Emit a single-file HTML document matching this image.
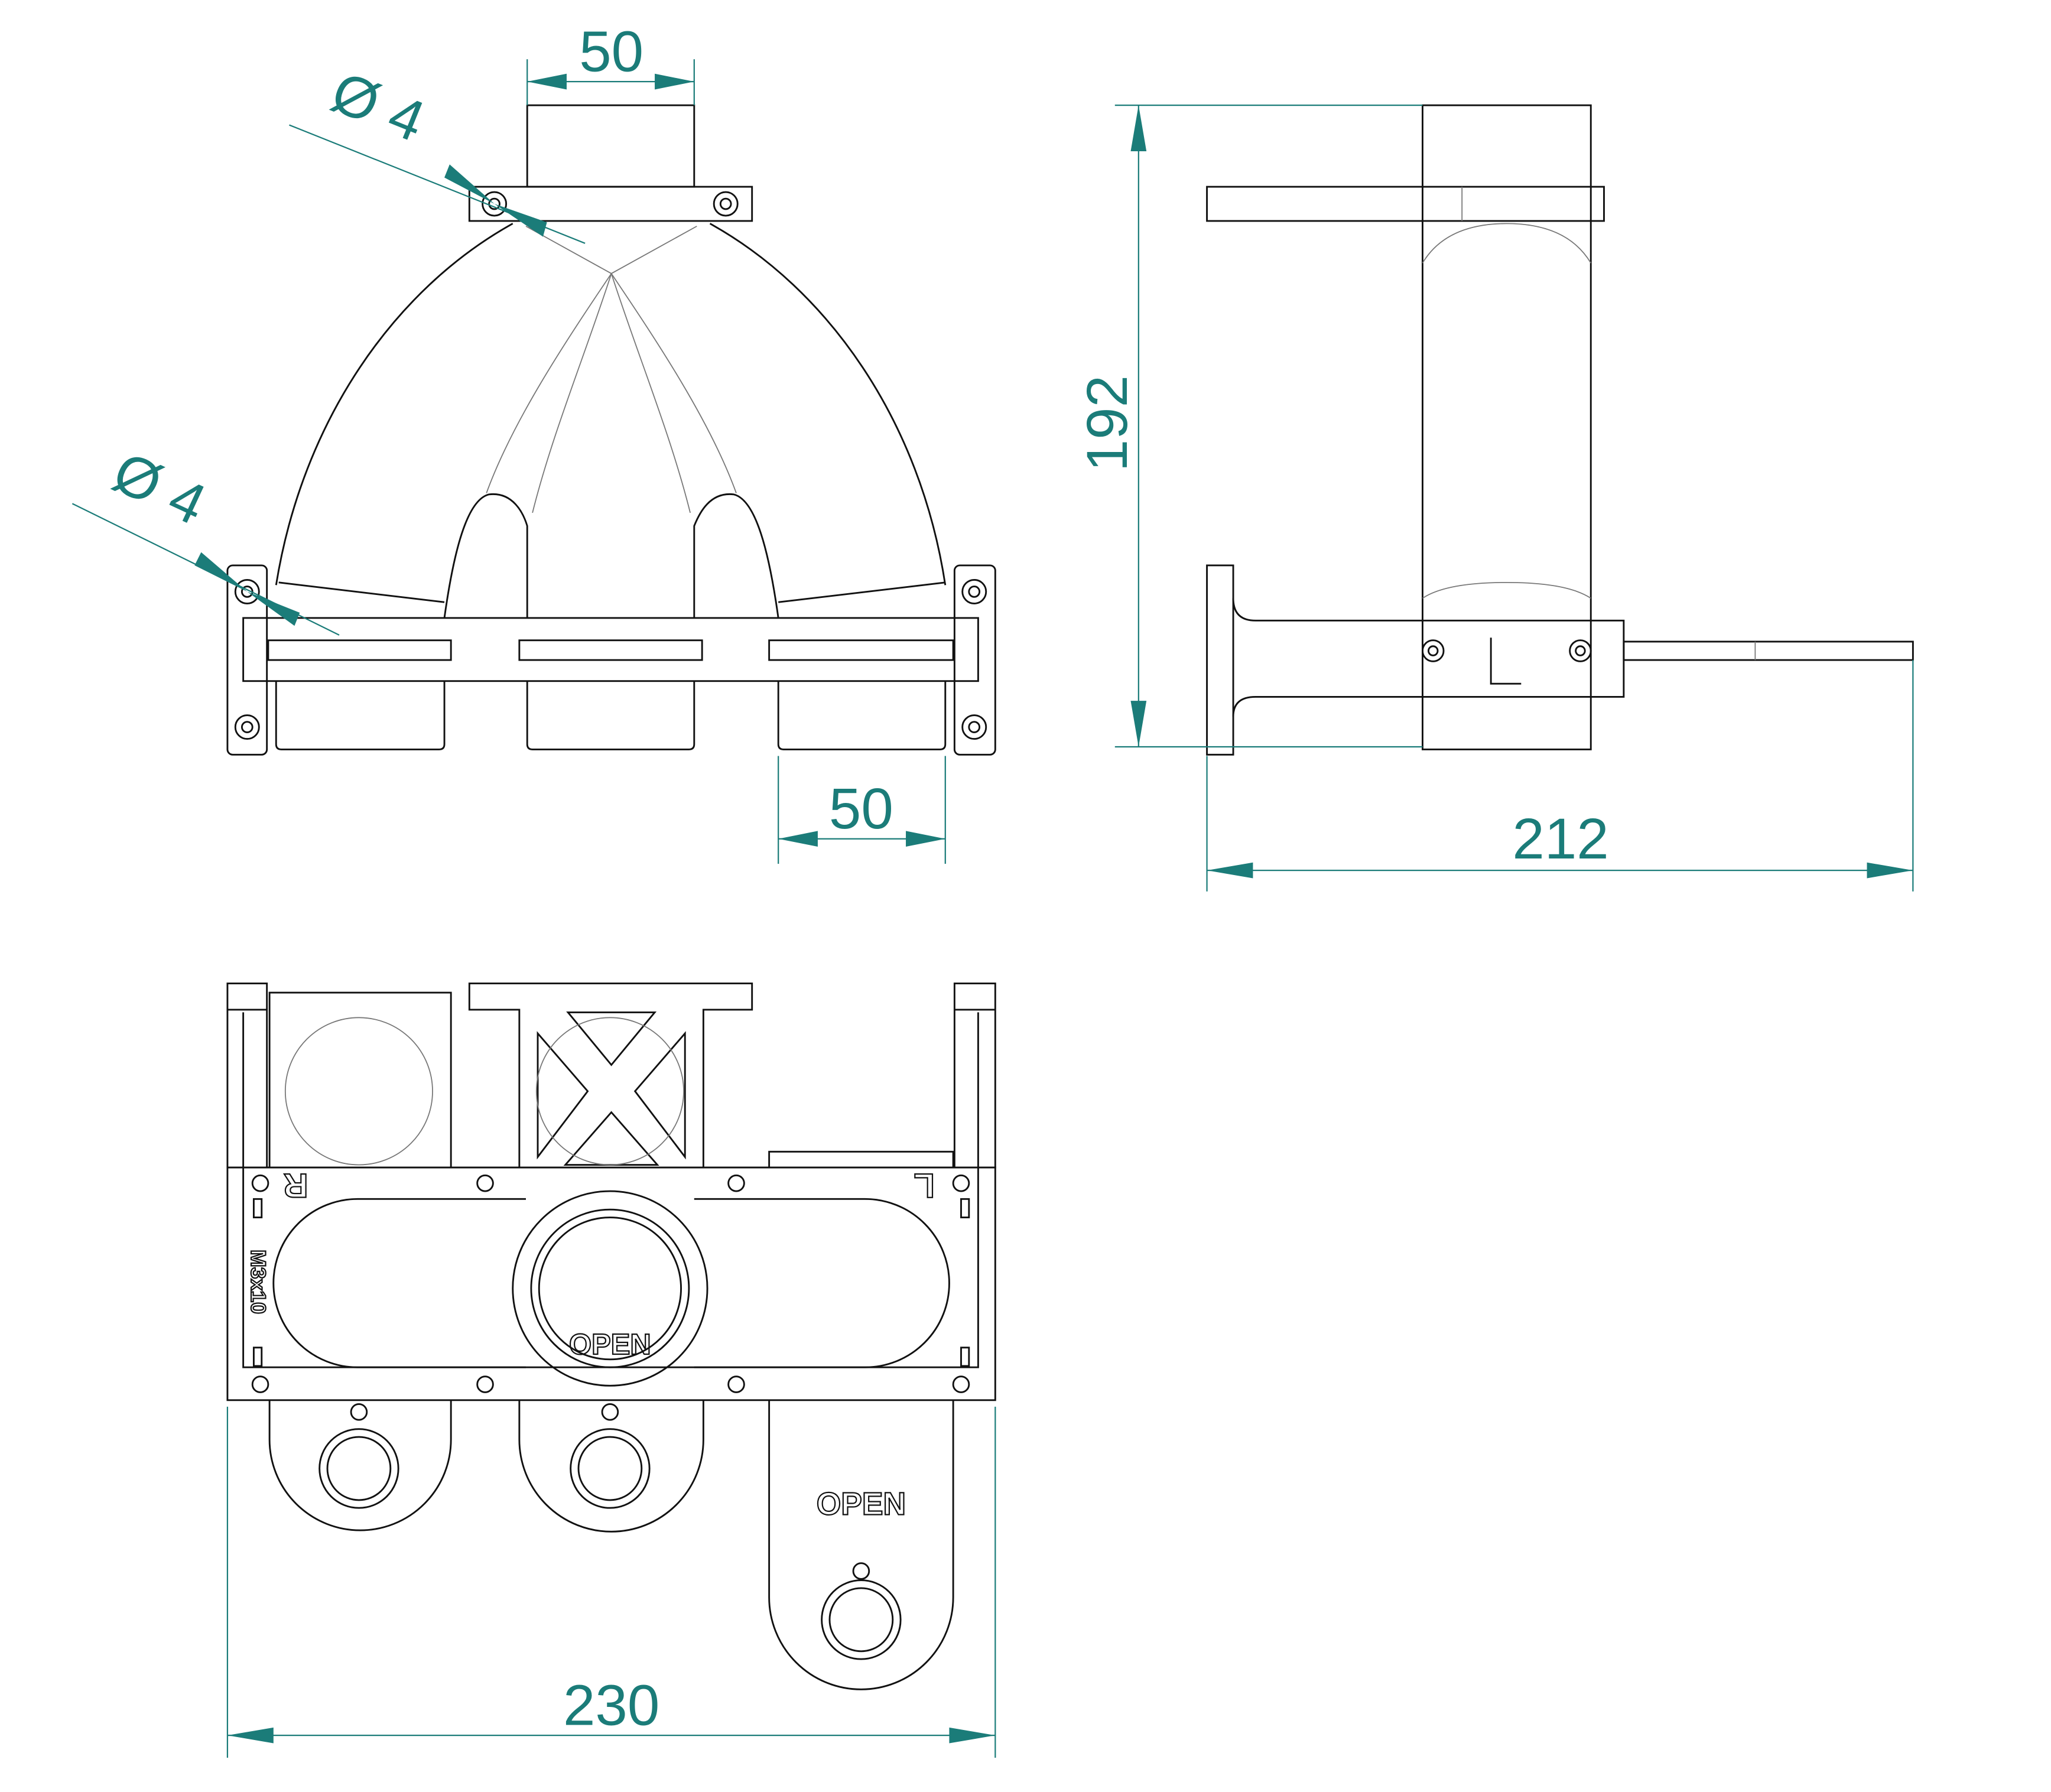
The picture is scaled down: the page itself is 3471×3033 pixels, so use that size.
<!DOCTYPE html>
<html><head><meta charset="utf-8"><style>
html,body{margin:0;padding:0;background:#fff}
svg{display:block}
.l{fill:none;stroke:#111;stroke-width:1.3}
.t{fill:none;stroke:#777;stroke-width:0.8}
.d{stroke:#1b7c79;stroke-width:1;fill:none}
.a{fill:#1b7c79}
.dt{font-family:"Liberation Sans",sans-serif;fill:#1b7c79;font-size:44px}
.bt{font-family:"Liberation Sans",sans-serif;fill:none;stroke:#111;stroke-width:1;font-weight:bold}
</style></head><body>
<svg width="3471" height="3033" viewBox="0 0 1560 1363" xmlns="http://www.w3.org/2000/svg">
<rect width="1560" height="1363" fill="#fff"/>
<!-- FRONT VIEW -->
<g class="l">
<rect x="401" y="80" width="127" height="62"/>
<rect x="357" y="142" width="215" height="26"/>
<circle cx="376" cy="155" r="9"/><circle cx="376" cy="155" r="4"/>
<circle cx="552" cy="155" r="9"/><circle cx="552" cy="155" r="4"/>
<path d="M390,170 C300,220 230,320 210,445"/>
<path d="M540,170 C630,220 700,320 719,445"/>
<path d="M212,443 L338,458"/><path d="M719,443 L592,458"/>
<path d="M338,470 C345,420 355,380 372,376 C390,374 398,390 401,400 L401,470"/>
<path d="M592,470 C585,420 575,380 558,376 C540,374 532,390 528,400 L528,470"/>
<rect x="185" y="470" width="559" height="48"/>
<rect x="204" y="487" width="139" height="15"/><rect x="395" y="487" width="139" height="15"/><rect x="585" y="487" width="140" height="15"/>
<rect x="173" y="430" width="30" height="144" rx="4"/>
<rect x="726" y="430" width="31" height="144" rx="4"/>
<circle cx="188" cy="450" r="9"/><circle cx="188" cy="450" r="4"/>
<circle cx="188" cy="553" r="9"/><circle cx="188" cy="553" r="4"/>
<circle cx="741" cy="450" r="9"/><circle cx="741" cy="450" r="4"/>
<circle cx="741" cy="553" r="9"/><circle cx="741" cy="553" r="4"/>
<path d="M210,518 V566 Q210,570 214,570 H334 Q338,570 338,566 V518"/>
<path d="M401,518 V566 Q401,570 405,570 H524 Q528,570 528,566 V518"/>
<path d="M592,518 V566 Q592,570 596,570 H715 Q719,570 719,566 V518"/>
</g>
<g class="t">
<path d="M400,172 L465,208 L530,172"/>
<path d="M465,208 C430,260 390,320 370,375"/><path d="M465,208 C445,270 420,330 405,390"/>
<path d="M465,208 C500,260 540,320 560,375"/><path d="M465,208 C485,270 510,330 525,390"/>
</g>
<g class="d">
<path d="M401,45 V80 M528,45 V80 M401,62 H528"/>
<path d="M592,575 V657 M719,575 V657 M592,638 H719"/>
<path d="M220,95 L445,185"/><path d="M55,383 L258,483"/>
</g>
<g class="a">
<path d="M401,62 l30,-6 v12z"/><path d="M528,62 l-30,-6 v12z"/>
<path d="M592,638 l30,-6 v12z"/><path d="M719,638 l-30,-6 v12z"/>
<path d="M376,155 l-38,-20 l4,-10z"/><path d="M376,155 l40,14 l-3,11z"/>
<path d="M188,450 l-40,-20 l5,-10z"/><path d="M188,450 l40,16 l-4,10z"/>
</g>
<text class="dt" x="465" y="54" text-anchor="middle">50</text>
<text class="dt" x="655" y="630" text-anchor="middle">50</text>
<text class="dt" transform="translate(282,95) rotate(22)" text-anchor="middle">Ø 4</text>
<text class="dt" transform="translate(115,385) rotate(25)" text-anchor="middle">Ø 4</text>
<!-- SIDE VIEW -->
<g class="l">
<rect x="1082" y="80" width="128" height="490"/>
<rect x="918" y="142" width="302" height="26"/>
<rect x="918" y="430" width="20" height="144"/>
<path d="M938,455 Q938,472 955,472 H1235 V530 H955 Q938,530 938,545"/>
<rect x="1235" y="488" width="220" height="14"/>
<circle cx="1090" cy="495" r="8"/><circle cx="1090" cy="495" r="3.5"/>
<circle cx="1202" cy="495" r="8"/><circle cx="1202" cy="495" r="3.5"/>
<path d="M1134,485 V520 H1157"/>
</g>
<g class="t"><path d="M1082,200 Q1100,170 1146,170 Q1192,170 1210,200"/><path d="M1082,455 Q1100,443 1146,443 Q1192,443 1210,455"/><path d="M1112,142 V168 M1335,488 V502"/></g>
<g class="d">
<path d="M848,80 H1082 M848,568 H1082 M866,80 V568"/>
<path d="M918,575 V678 M1455,502 V678 M918,662 H1455"/>
</g>
<g class="a">
<path d="M866,80 l-6,35 h12z"/><path d="M866,568 l-6,-35 h12z"/>
<path d="M918,662 l35,-6 v12z"/><path d="M1455,662 l-35,-6 v12z"/>
</g>
<text class="dt" transform="translate(857,322) rotate(-90)" text-anchor="middle">192</text>
<text class="dt" x="1187" y="653" text-anchor="middle">212</text>
<!-- BOTTOM VIEW -->
<g class="l">
<rect x="173" y="748" width="30" height="140"/><rect x="726" y="748" width="31" height="140"/>
<path d="M185,770 V888 M744,770 V888 M173,768 H203 M726,768 H757"/>
<rect x="205" y="755" width="138" height="133"/>
<path d="M357,748 H572 V768 H535 V888 H395 V768 H357Z"/>
<path d="M432,770 H498 L465,810Z"/>
<path d="M430,886 H500 L465,846Z"/>
<path d="M409,786 V880 L447,830Z"/>
<path d="M521,786 V880 L483,830Z"/>
<rect x="585" y="876" width="140" height="12"/>
<rect x="173" y="888" width="584" height="177"/>
<rect x="185" y="888" width="559" height="152"/>
<path d="M272,912 H400 M272,1040 H400 M272,912 A64,64 0 0 0 272,1040"/>
<path d="M658,912 H528 M658,1040 H528 M658,912 A64,64 0 0 1 658,1040"/>
<circle cx="464" cy="980" r="60"/><circle cx="464" cy="980" r="54"/><circle cx="464" cy="980" r="74"/>
<circle cx="198" cy="900" r="6"/><circle cx="198" cy="1053" r="6"/><circle cx="731" cy="900" r="6"/><circle cx="731" cy="1053" r="6"/>
<circle cx="369" cy="900" r="6"/><circle cx="560" cy="900" r="6"/><circle cx="369" cy="1053" r="6"/><circle cx="560" cy="1053" r="6"/>
<rect x="193" y="912" width="6" height="14"/><rect x="193" y="1025" width="6" height="14"/>
<rect x="731" y="912" width="6" height="14"/><rect x="731" y="1025" width="6" height="14"/>
<path d="M205,1065 V1095 A69,69 0 0 0 343,1095 V1065"/>
<path d="M395,1065 V1095 A70,70 0 0 0 535,1095 V1065"/>
<path d="M585,1065 V1215 A70,70 0 0 0 725,1215 V1065"/>
<circle cx="273" cy="1117" r="30"/><circle cx="273" cy="1117" r="24"/><circle cx="273" cy="1074" r="6"/>
<circle cx="464" cy="1117" r="30"/><circle cx="464" cy="1117" r="24"/><circle cx="464" cy="1074" r="6"/>
<circle cx="655" cy="1232" r="30"/><circle cx="655" cy="1232" r="24"/><circle cx="655" cy="1195" r="6"/>
</g>
<g class="t"><circle cx="273" cy="830" r="56"/><circle cx="464" cy="830" r="56"/></g>
<text class="bt" x="655" y="1152" font-size="24" text-anchor="middle">OPEN</text>
<text class="bt" x="464" y="1030" font-size="22" text-anchor="middle">OPEN</text>
<text class="bt" transform="translate(225,893) rotate(180)" font-size="26" text-anchor="middle">R</text>
<text class="bt" transform="translate(703,893) rotate(180)" font-size="26" text-anchor="middle">L</text>
<text class="bt" transform="translate(191,975) rotate(90)" font-size="16" text-anchor="middle">M3x10</text>
<g class="d"><path d="M173,1070 V1337 M757,1070 V1337 M173,1320 H757"/></g>
<g class="a"><path d="M173,1320 l35,-6 v12z"/><path d="M757,1320 l-35,-6 v12z"/></g>
<text class="dt" x="465" y="1312" text-anchor="middle">230</text>
</svg>
</body></html>
